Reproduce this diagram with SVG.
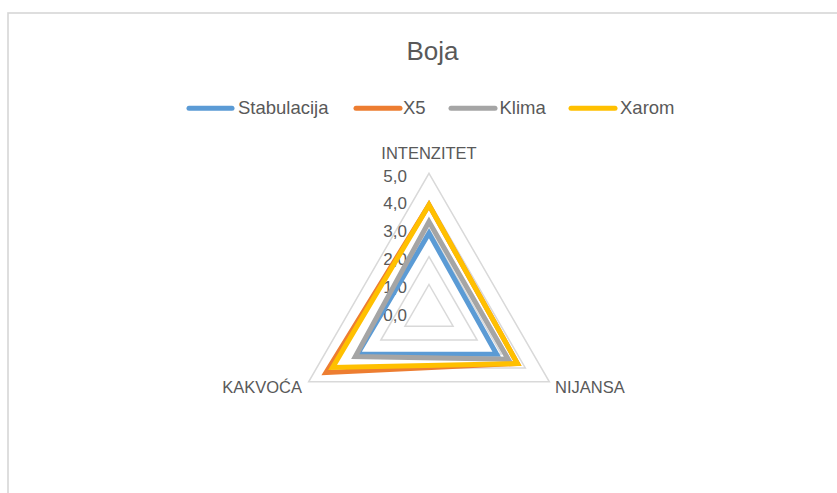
<svg xmlns="http://www.w3.org/2000/svg" width="837" height="493" viewBox="0 0 837 493">
<style>
text{font-family:"Liberation Sans",Arial,sans-serif;fill:#595959}
.grid{fill:none;stroke:#d9d9d9;stroke-width:1.5}
.s{fill:none;stroke-width:5;stroke-linejoin:miter}
.leg{stroke-width:5;stroke-linecap:round}
.tick{font-size:17px;text-anchor:end}
.ax{font-size:16.5px}
.lt{font-size:18.5px}
</style>
<rect width="837" height="493" fill="#ffffff"/>
<rect x="8" y="13" width="840" height="490" fill="#ffffff" stroke="#d6d6d6" stroke-width="1.6"/>
<text id="title" x="432.5" y="60" font-size="26" text-anchor="middle">Boja</text>
<g id="legend">
<line class="leg" x1="189" y1="108.3" x2="232" y2="108.3" stroke="#5B9BD5"/>
<text class="lt" x="238" y="113.5">Stabulacija</text>
<line class="leg" x1="356" y1="108.3" x2="400" y2="108.3" stroke="#ED7D31"/>
<text class="lt" x="403" y="113.5">X5</text>
<line class="leg" x1="451" y1="108.3" x2="495" y2="108.3" stroke="#A5A5A5"/>
<text class="lt" x="499.5" y="113.5">Klima</text>
<line class="leg" x1="571" y1="108.3" x2="615" y2="108.3" stroke="#FFC000"/>
<text class="lt" x="620" y="113.5">Xarom</text>
</g>
<g id="gridlines">
<polygon class="grid" points="429,284.5 453.07,326.2 404.93,326.2"/>
<polygon class="grid" points="429,256.7 477.14,340.1 380.86,340.1"/>
<polygon class="grid" points="429,228.9 501.21,354 356.79,354"/>
<polygon class="grid" points="429,201.1 525.28,367.9 332.72,367.9"/>
<polygon class="grid" points="429,173.3 549.35,381.8 308.65,381.8"/>
</g>
<g id="ticks">
<text class="tick" x="407" y="181.5">5,0</text>
<text class="tick" x="407" y="209.3">4,0</text>
<text class="tick" x="407" y="237.1">3,0</text>
<text class="tick" x="407" y="264.9">2,0</text>
<text class="tick" x="407" y="292.7">1,0</text>
<text class="tick" x="407" y="320.5">0,0</text>
</g>
<g id="axis-labels">
<text class="ax" x="429" y="159.3" text-anchor="middle">INTENZITET</text>
<text class="ax" x="302" y="393" text-anchor="end">KAKVOĆA</text>
<text class="ax" x="555" y="393">NIJANSA</text>
</g>
<g id="connectors">
<polygon id="stabulacija" class="s" stroke="#5B9BD5" points="429,233.3 496.7,354.2 357.5,354.2"/>
<polygon id="x5" class="s" stroke="#ED7D31" points="429,205 517.4,363.5 326,372.5"/>
<polygon id="klima" class="s" stroke="#A5A5A5" points="429,221.7 508.2,359.2 355.3,356.5"/>
<polygon id="xarom" class="s" stroke="#FFC000" points="429,205 517.4,363.5 332.6,367.5"/>
</g>
</svg>
